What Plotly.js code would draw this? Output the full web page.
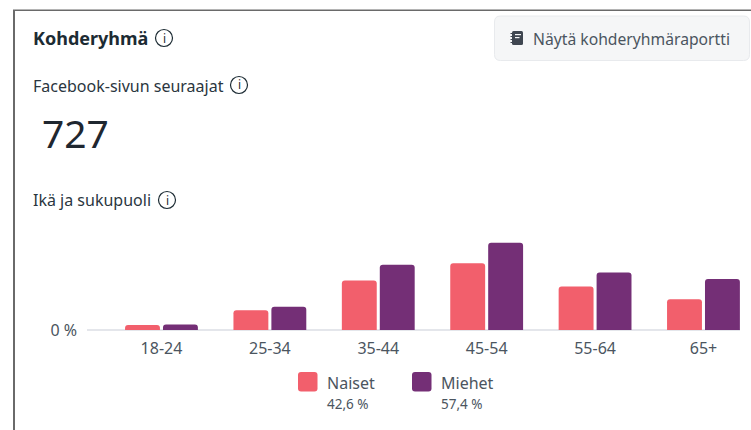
<!DOCTYPE html>
<html><head><meta charset="utf-8">
<script src="https://cdn.plot.ly/plotly-3.0.1.min.js"></script>
<style>html,body{margin:0;padding:0;background:#fff;overflow:hidden}#c{width:751px;height:430px}</style>
</head><body><div id="c"></div>
<script>
const categories = ['18-24','25-34','35-44','45-54','55-64','65+'];
const naiset = [1.0,3.9,9.8,13.2,8.6,6.1];
const miehet = [1.1,4.6,12.9,17.3,11.4,10.1];
const seriesNames = ['Naiset','Miehet'];
const seriesShares = ['42,6 %','57,4 %'];
const colors = ['#f25f6c','#742f76'];
const FONT = '"Noto Sans", "Open Sans", sans-serif';

const W=751,H=430,L=87,R=11,T=230,B=100;
const px=x=>(x-L)/(W-L-R), py=y=>1-(y-T)/(H-T-B);
const text=(x,y,t,size,color,extra={})=>Object.assign({xref:'paper',yref:'paper',x:px(x-2),y:py(y),text:t,showarrow:false,
  xanchor:'left',yanchor:'middle',font:{family:FONT,size:size,color:color}},extra);
const rect=(x0,y0,x1,y1,o)=>Object.assign({type:'rect',xref:'paper',yref:'paper',x0:px(x0),y0:py(y0),x1:px(x1),y1:py(y1),layer:'above'},o);
const round=(x0,y0,x1,y1,r,o)=>Object.assign({type:'path',xref:'paper',yref:'paper',layer:'above',
  path:`M${px(x0+r)},${py(y0)}L${px(x1-r)},${py(y0)}Q${px(x1)},${py(y0)} ${px(x1)},${py(y0+r)}L${px(x1)},${py(y1-r)}Q${px(x1)},${py(y1)} ${px(x1-r)},${py(y1)}L${px(x0+r)},${py(y1)}Q${px(x0)},${py(y1)} ${px(x0)},${py(y1-r)}L${px(x0)},${py(y0+r)}Q${px(x0)},${py(y0)} ${px(x0+r)},${py(y0)}Z`},o);
const icon=(cx,cy)=>({type:'circle',xref:'paper',yref:'paper',layer:'above',x0:px(cx-8.5),x1:px(cx+8.5),y0:py(cy-8.5),y1:py(cy+8.5),line:{color:'#1c2b33',width:1.2},fillcolor:'rgba(0,0,0,0)'});

const dark='#1c2b33', mid='#4b5560';
const iconText=(x,y)=>Object.assign(text(x,y,'i',12,dark),{x:px(x),xanchor:'center'});
const annotations=[
  text(33,38,'<b>Kohderyhmä</b>',18,dark),
  text(533,39.5,'Näytä kohderyhmäraportti',15.7,mid),
  text(33,86,'Facebook-sivun seuraajat',16,'#2a3640'),
  text(42,132,'727',39,'#1f2730'),
  text(33,200,'Ikä ja sukupuoli',16,'#2a3640'),
  iconText(164,38),iconText(239,85),iconText(167,200),
  text(327,383,seriesNames[0],16,mid),
  text(327,404,seriesShares[0],13.5,mid),
  text(441,383,seriesNames[1],16,mid),
  text(441,404,seriesShares[1],13.5,mid)
];
const shapes=[
  rect(13,10,15,430,{fillcolor:'#6a6a6a',line:{width:0}}),
  rect(13,9.5,751,11,{fillcolor:'#6a6a6a',line:{width:0}}),
  round(494.5,16,749.5,60.5,6,{fillcolor:'#f5f6f7',line:{color:'#e8eaed',width:1},layer:'below'}),
  round(512,31,523,45,1.5,{fillcolor:'#3f4650',line:{width:0}}),
  rect(510.5,33,513,34,{fillcolor:'#3f4650',line:{width:0}}),
  rect(510.5,36,513,37,{fillcolor:'#3f4650',line:{width:0}}),
  rect(510.5,39,513,40,{fillcolor:'#3f4650',line:{width:0}}),
  rect(510.5,42,513,43,{fillcolor:'#3f4650',line:{width:0}}),
  rect(515,34,521,35.2,{fillcolor:'#f5f6f7',line:{width:0}}),
  rect(515,37,519.5,38.2,{fillcolor:'#f5f6f7',line:{width:0}}),
  icon(164,38),icon(239,85),icon(167,200),
  round(298,372,317.5,391.5,3,{fillcolor:colors[0],line:{width:0}}),
  round(412,372,431.5,391.5,3,{fillcolor:colors[1],line:{width:0}})
];
const mk=(n,y,c)=>({type:'bar',name:n,x:categories,y:y,marker:{color:c,cornerradius:3,line:{width:0}},hoverinfo:'x+y'});
Plotly.newPlot('c',[mk(seriesNames[0],naiset,colors[0]),mk(seriesNames[1],miehet,colors[1])],{
  width:W,height:H,margin:{l:L,r:R,t:T,b:B,pad:0},paper_bgcolor:'#fff',plot_bgcolor:'#fff',showlegend:false,
  barmode:'group',bargap:0.30,bargroupgap:0.08,
  xaxis:{type:'category',range:[-0.687,5.337],showgrid:false,zeroline:false,showline:false,ticks:'',ticklen:0,ticklabelstandoff:7,
    tickfont:{family:FONT,size:16,color:mid},fixedrange:true},
  yaxis:{range:[0,19.8],tickvals:[0],ticktext:['0 %'],showgrid:false,zeroline:true,zerolinecolor:'#e4e6eb',zerolinewidth:2,
    showline:false,ticks:'',ticklabelstandoff:9,tickfont:{family:FONT,size:16,color:mid},fixedrange:true},
  annotations,shapes
},{displayModeBar:false,staticPlot:true});
</script></body></html>
